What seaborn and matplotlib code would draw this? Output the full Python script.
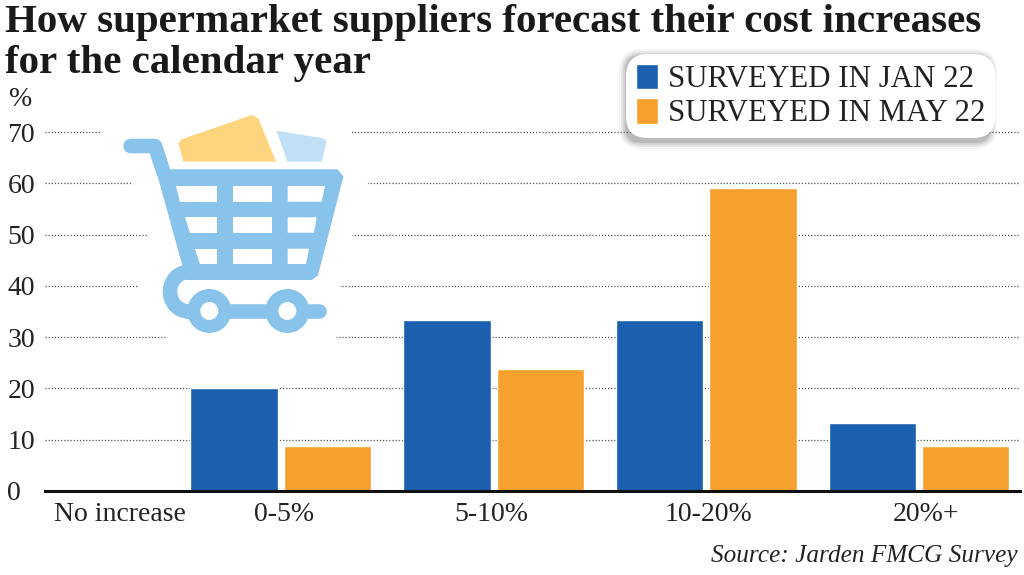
import matplotlib
matplotlib.use('Agg')
import numpy as np
import pandas as pd
import matplotlib.pyplot as plt
import seaborn as sns
from matplotlib.patches import Polygon, Circle, Arc, Patch, FancyBboxPatch
from matplotlib.transforms import ScaledTranslation

# Data
categories = ['No increase', '0-5%', '5-10%', '10-20%', '20%+']
jan_22 = [0, 20, 33.3, 33.3, 13.3]
may_22 = [0, 8.7, 23.7, 59, 8.7]
series_names = ['SURVEYED IN JAN 22', 'SURVEYED IN MAY 22']
y_ticks = [0, 10, 20, 30, 40, 50, 60, 70]

BLUE = '#1B60AF'
ORANGE = '#F6A02D'
CART = '#88C3EC'

df = pd.DataFrame({
    'category': categories * 2,
    'survey': [series_names[0]] * 5 + [series_names[1]] * 5,
    'value': jan_22 + may_22,
})

sns.set_theme(style='white')
plt.rcParams['font.family'] = ['Liberation Serif', 'DejaVu Serif']

W, H = 1024, 575
fig = plt.figure(figsize=(W / 100, H / 100), dpi=100, facecolor='white')
ax = fig.add_axes([45 / W, (H - 491) / H, 975 / W, 359 / H])

sns.barplot(data=df, x='category', y='value', hue='survey',
            palette=[BLUE, ORANGE], width=0.877, gap=0.065,
            saturation=1, ax=ax)

ax.set_xlim(-0.108, 4.474)
ax.set_ylim(0, 70)
ax.set_xlabel('')
ax.set_ylabel('')
ax.set_yticks(y_ticks)
ax.set_axisbelow(True)
ax.yaxis.grid(True, linestyle=(0, (1, 1.5)), color='#555555', linewidth=0.9)
for line in ax.get_ygridlines():
    line.set_clip_on(False)
ax.xaxis.grid(False)

for side in ['top', 'left', 'right']:
    ax.spines[side].set_visible(False)
ax.spines['bottom'].set_linewidth(2.2)
ax.spines['bottom'].set_color('#111111')

ax.tick_params(axis='x', length=0, pad=8, labelsize=20, labelcolor='#222222')
ax.tick_params(axis='y', length=0, pad=27, labelsize=20, labelcolor='#222222')
for label in ax.get_yticklabels():
    label.set_ha('left')

# category labels are not evenly spaced in the reference
label_shift_px = [52, 3, -2, 2, 7]
for label, shift in zip(ax.get_xticklabels(), label_shift_px):
    label.set_transform(label.get_transform() + ScaledTranslation(shift / 100, 0, fig.dpi_scale_trans))

# Legend
handles = [Patch(facecolor=BLUE), Patch(facecolor=ORANGE)]
leg = ax.legend(handles, series_names, loc='upper left',
                bbox_to_anchor=(626 / W, (H - 54) / H), bbox_transform=fig.transFigure,
                fontsize=22.2, frameon=True, fancybox=True, framealpha=1,
                facecolor='white', edgecolor='none',
                handlelength=0.71, handleheight=0.9, handletextpad=0.32,
                labelspacing=0.12, borderpad=0.32, borderaxespad=0,
                labelcolor='#222222')
leg.get_frame().set_boxstyle('round', pad=0, rounding_size=0.7)
leg.set_zorder(6)

# Title, unit and source
fig.text(5 / W, 1 - 32 / H, 'How supermarket suppliers forecast their cost increases',
         fontsize=29.55, fontweight='bold', color='#1a1a1a', va='baseline')
fig.text(5 / W, 1 - 73 / H, 'for the calendar year',
         fontsize=29.55, fontweight='bold', color='#1a1a1a', va='baseline')
fig.text(9 / W, 1 - 106 / H, '%', fontsize=20, color='#222222', va='baseline')
fig.text(1018 / W, 1 - 562 / H, 'Source: Jarden FMCG Survey', fontsize=18.2,
         style='italic', color='#222222', ha='right', va='baseline')

# Cart icon, drawn on a pixel overlay
icon = fig.add_axes([0, 0, 1, 1], zorder=-1)
icon.set_xlim(0, W)
icon.set_ylim(H, 0)
icon.axis('off')
ax.set_zorder(1)
ax.patch.set_alpha(0)

top = fig.add_axes([0, 0, 1, 1], zorder=2)
top.set_xlim(0, W)
top.set_ylim(H, 0)
top.axis('off')
top.patch.set_alpha(0)

# soft shadow under the legend box
for grow, alpha in [(7, 0.04), (5, 0.06), (3, 0.08), (1, 0.12)]:
    icon.add_patch(FancyBboxPatch((626 - grow, 56 - grow), 364 + 2 * grow, 86 + 2 * grow,
                                  boxstyle='round,pad=0,rounding_size=%d' % (15 + grow),
                                  facecolor='black', edgecolor='none', alpha=alpha))


def z(points):
    return [(x / 3, y / 3 + 80) for x, y in points]


# white patch that interrupts the gridlines behind the cart
top.add_patch(Polygon([(102, 120), (250, 105), (348, 120), (368, 183), (353, 234),
                       (340, 286), (336, 345), (170, 345), (138, 286), (149, 234),
                       (133, 183), (102, 140)], facecolor='white', edgecolor='none', zorder=1))

top.add_patch(Polygon(z([(550, 245), (828, 245), (775, 115), (755, 105), (545, 178), (535, 190)]),
                      facecolor='#FDD57F', edgecolor='none', zorder=2))
top.add_patch(Polygon(z([(862, 245), (965, 245), (980, 185), (970, 175), (830, 152)]),
                      facecolor='#BFE0F5', edgecolor='none', zorder=2))

# handle and basket
top.plot(*zip(*z([(392, 198), (465, 198), (490, 275)])), color=CART, lw=10.5,
         solid_capstyle='round', solid_joinstyle='round', zorder=3)
top.add_patch(Polygon(z([(470, 270), (1012, 270), (1028, 290), (952, 585), (935, 598),
                         (560, 598), (550, 560)]),
                      facecolor=CART, edgecolor=CART, lw=1, joinstyle='round', zorder=3))
holes = [
    [(527, 318), (652, 318), (652, 365), (540, 365)],
    [(698, 318), (817, 318), (817, 365), (698, 365)],
    [(863, 318), (975, 318), (965, 365), (863, 365)],
    [(555, 412), (652, 412), (652, 458), (570, 458)],
    [(698, 412), (817, 412), (817, 458), (698, 458)],
    [(863, 412), (950, 412), (942, 458), (863, 458)],
    [(585, 506), (652, 506), (652, 552), (600, 552)],
    [(698, 506), (817, 506), (817, 552), (698, 552)],
    [(863, 506), (927, 506), (918, 552), (863, 552)],
]
for hole in holes:
    top.add_patch(Polygon(z(hole), facecolor='white', edgecolor='none', zorder=4))

# strut, axle and wheels
top.add_patch(Arc((565 / 3, 635 / 3 + 80), 110 / 3, 118 / 3, theta1=90, theta2=270,
                  color=CART, lw=10.5, zorder=3))
top.plot(*zip(*z([(560, 693), (958, 693)])), color=CART, lw=10.5, solid_capstyle='round', zorder=3)
for cx in [628, 862]:
    top.add_patch(Circle((cx / 3, 693 / 3 + 80), 66 / 3, facecolor=CART, edgecolor='none', zorder=4))
    top.add_patch(Circle((cx / 3, 693 / 3 + 80), 27 / 3, facecolor='white', edgecolor='none', zorder=5))

fig.savefig('out.png', dpi=100)
